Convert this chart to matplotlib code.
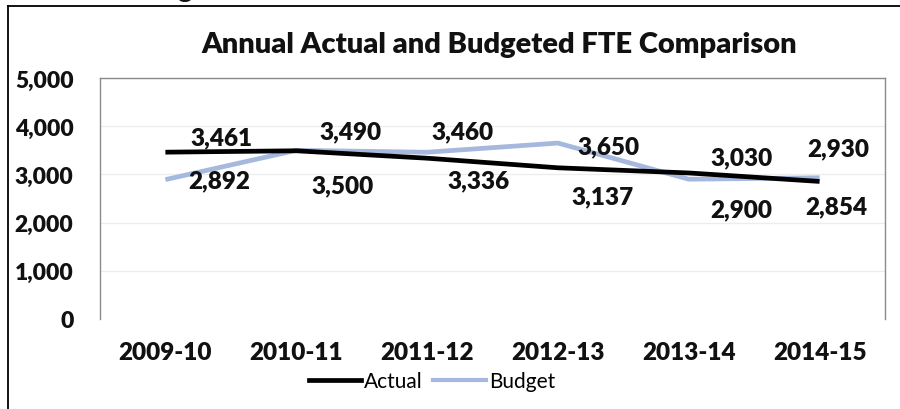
import matplotlib

matplotlib.use("Agg")
import matplotlib.pyplot as plt
from matplotlib.lines import Line2D

years = ["2009-10", "2010-11", "2011-12", "2012-13", "2013-14", "2014-15"]
actual = [3461, 3490, 3336, 3137, 3030, 2854]
budget = [2892, 3500, 3460, 3650, 2900, 2930]
y_ticks = [0, 1000, 2000, 3000, 4000, 5000]

TITLE = "Annual Actual and Budgeted FTE Comparison"
BOLD_FONT = ["Lato", "DejaVu Sans"]

# label offsets (pixels) from each point, per series
actual_offsets = [(56, 15), (54, 19), (51, -22), (45, -29), (53, 16), (17, -25)]
budget_offsets = [(54, -1), (46, -35), (35, 21), (51, -3), (53, -30), (19, 29)]


def add_labels(ax, xs, values, offsets):
    for x, v, (dx, dy) in zip(xs, values, offsets):
        ax.annotate(
            f"{v:,}",
            xy=(x, v),
            xytext=(dx, dy),
            textcoords="offset pixels",
            ha="center",
            va="center",
            fontsize=17.5,
            fontweight="heavy",
            family=BOLD_FONT,
            color="#111111",
            annotation_clip=False,
        )


def main() -> None:
    fig = plt.figure(figsize=(9, 4.1), dpi=100)
    fig.patch.set_facecolor("white")
    ax = fig.add_axes([100 / 900, 1 - 320 / 410, 785 / 900, 241 / 410])

    xs = list(range(len(years)))
    ax.set_xlim(-0.5, len(years) - 0.5)
    ax.set_ylim(0, 5000)

    for y in y_ticks[1:]:
        ax.axhline(y, color="#ececec", linewidth=0.9, zorder=0)

    ax.plot(xs, budget, color="#a6b8dd", linewidth=3.4, label="Budget", zorder=2,
            solid_capstyle="butt")
    ax.plot(xs, actual, color="black", linewidth=3.4, label="Actual", zorder=3,
            solid_capstyle="butt")

    add_labels(ax, xs, actual, actual_offsets)
    add_labels(ax, xs, budget, budget_offsets)

    ax.set_yticks(y_ticks)
    ax.set_yticklabels([f"{v:,}" for v in y_ticks])
    ax.set_xticks(xs)
    ax.set_xticklabels(years)
    ax.tick_params(axis="y", length=0, pad=19, labelsize=16.5)
    ax.tick_params(axis="x", length=0, pad=16, labelsize=17.5)
    for lbl in ax.get_yticklabels() + ax.get_xticklabels():
        lbl.set_family(BOLD_FONT)
        lbl.set_fontweight("heavy")
        lbl.set_color("#111111")

    for side in ("left", "top", "right"):
        ax.spines[side].set_color("#8a8a8a")
        ax.spines[side].set_linewidth(1.0)
    ax.spines["bottom"].set_visible(False)

    fig.text(499 / 900, 1 - 45 / 410, TITLE, ha="center", va="center", fontsize=21,
             fontweight="heavy", family=BOLD_FONT, color="#111111")

    handles = [
        Line2D([], [], color="black", linewidth=3.4),
        Line2D([], [], color="#a6b8dd", linewidth=3.0),
    ]
    fig.legend(handles, ["Actual", "Budget"], loc="center",
               bbox_to_anchor=(432 / 900, 1 - 382 / 410), ncol=2, frameon=False,
               handlelength=2.5, handletextpad=0.15, columnspacing=0.5,
               prop={"family": ["Lato", "DejaVu Sans"], "size": 15})

    # frame around the figure and the clipped heading above it
    fig.add_artist(Line2D([8 / 900, 8 / 900], [0, 1 - 7 / 410], color="black",
                          linewidth=1.3, transform=fig.transFigure))
    fig.add_artist(Line2D([8 / 900, 1], [1 - 7 / 410, 1 - 7 / 410], color="black",
                          linewidth=1.3, transform=fig.transFigure))
    fig.text(185 / 900, 1 + 3 / 410, "g", ha="center", va="baseline", fontsize=20,
             fontweight="heavy", family=BOLD_FONT, color="#111111")

    fig.savefig("out.png", dpi=100, facecolor="white")
    plt.close(fig)


if __name__ == "__main__":
    main()
